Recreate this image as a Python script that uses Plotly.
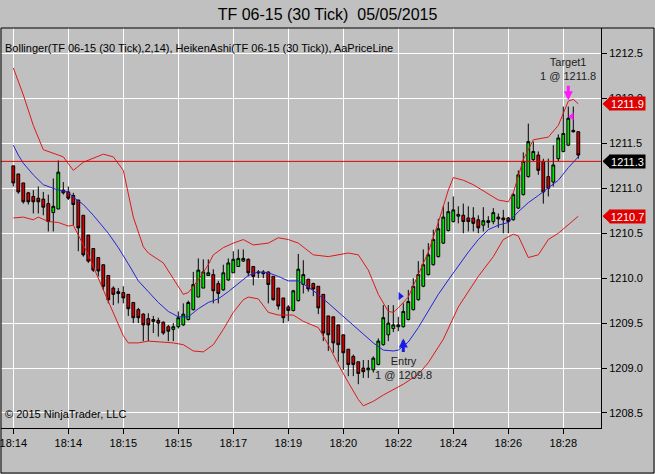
import plotly.graph_objects as go

# NinjaTrader style Heiken Ashi chart with Bollinger bands

title_text = "TF 06-15 (30 Tick)\u00a0 05/05/2015"
indicator_text = "Bollinger(TF 06-15 (30 Tick),2,14), HeikenAshi(TF 06-15 (30 Tick)), AaPriceLine"
copyright_text = "\u00a9 2015 NinjaTrader, LLC"

time_ticks = [0, 11, 22, 33, 44, 55, 66, 77, 88, 99, 110]
time_labels = ["18:14", "18:14", "18:15", "18:15", "18:17", "18:19",
               "18:20", "18:22", "18:24", "18:26", "18:28"]

# heiken ashi candles, one per 30 tick bar
ha_open = [1211.25, 1211.16, 1211.06, 1210.95, 1210.91, 1210.89, 1210.88, 1210.83, 1210.73, 1210.77,
           1210.98, 1210.96, 1210.92, 1210.87, 1210.70, 1210.48, 1210.33, 1210.23, 1210.15, 1210.03,
           1209.89, 1209.85, 1209.84, 1209.82, 1209.73, 1209.65, 1209.60, 1209.55, 1209.52, 1209.53,
           1209.51, 1209.46, 1209.43, 1209.46, 1209.48, 1209.54, 1209.65, 1209.79, 1209.89, 1210.03,
           1210.04, 1209.94, 1209.87, 1209.98, 1210.06, 1210.13, 1210.19, 1210.21, 1210.13, 1210.07,
           1210.07, 1210.07, 1210.02, 1209.89, 1209.78, 1209.68, 1209.64, 1209.75, 1209.93, 1209.99,
           1209.94, 1209.91, 1209.82, 1209.58, 1209.57, 1209.48, 1209.37, 1209.21, 1209.13, 1209.07,
           1209.00, 1208.98, 1208.98, 1209.04, 1209.26, 1209.37, 1209.44, 1209.46, 1209.46, 1209.54,
           1209.65, 1209.76, 1209.91, 1210.04, 1210.15, 1210.24, 1210.39, 1210.53, 1210.63, 1210.69,
           1210.70, 1210.67, 1210.67, 1210.65, 1210.59, 1210.62, 1210.63, 1210.68, 1210.67, 1210.67,
           1210.65, 1210.78, 1210.93, 1211.13, 1211.32, 1211.37, 1211.30, 1211.13, 1211.07, 1211.33,
           1211.41, 1211.48, 1211.645, 1211.63]
ha_high = [1211.25, 1211.16, 1211.06, 1210.96, 1210.98, 1211.02, 1210.96, 1210.93, 1211.11, 1211.31,
           1211.07, 1211.02, 1210.95, 1210.87, 1210.70, 1210.48, 1210.33, 1210.23, 1210.15, 1210.03,
           1209.91, 1209.89, 1209.91, 1209.82, 1209.73, 1209.67, 1209.61, 1209.61, 1209.58, 1209.56,
           1209.52, 1209.48, 1209.50, 1209.63, 1209.72, 1209.75, 1210.07, 1210.22, 1210.21, 1210.21,
           1210.10, 1209.97, 1210.15, 1210.22, 1210.30, 1210.32, 1210.32, 1210.22, 1210.13, 1210.09,
           1210.09, 1210.07, 1210.02, 1209.89, 1209.78, 1209.70, 1209.87, 1210.27, 1210.20, 1209.99,
           1209.95, 1209.91, 1209.82, 1209.58, 1209.57, 1209.48, 1209.37, 1209.21, 1209.15, 1209.07,
           1209.09, 1209.09, 1209.13, 1209.33, 1209.70, 1209.70, 1209.70, 1209.57, 1209.72, 1209.87,
           1210.00, 1210.19, 1210.32, 1210.39, 1210.54, 1210.66, 1210.80, 1210.85, 1210.91, 1210.80,
           1210.83, 1210.80, 1210.79, 1210.70, 1210.79, 1210.69, 1210.78, 1210.72, 1210.76, 1210.68,
           1210.95, 1211.20, 1211.40, 1211.72, 1211.52, 1211.41, 1211.33, 1211.33, 1211.48, 1211.60,
           1211.91, 1211.91, 1211.91, 1211.63]
ha_low = [1211.02, 1210.94, 1210.83, 1210.82, 1210.72, 1210.72, 1210.70, 1210.52, 1210.52, 1210.77,
          1210.93, 1210.87, 1210.59, 1210.30, 1210.24, 1210.17, 1210.07, 1210.02, 1209.87, 1209.72,
          1209.70, 1209.72, 1209.72, 1209.58, 1209.50, 1209.50, 1209.30, 1209.30, 1209.39, 1209.35,
          1209.37, 1209.30, 1209.30, 1209.44, 1209.47, 1209.53, 1209.64, 1209.79, 1209.89, 1210.03,
          1209.72, 1209.72, 1209.86, 1209.97, 1210.06, 1210.13, 1210.18, 1210.02, 1209.92, 1210.00,
          1210.00, 1209.72, 1209.75, 1209.65, 1209.50, 1209.52, 1209.63, 1209.74, 1209.83, 1209.85,
          1209.80, 1209.60, 1209.30, 1209.19, 1209.17, 1209.07, 1208.98, 1208.91, 1208.91, 1208.82,
          1208.89, 1208.89, 1208.95, 1209.03, 1209.25, 1209.30, 1209.40, 1209.41, 1209.45, 1209.53,
          1209.64, 1209.75, 1209.90, 1210.03, 1210.14, 1210.23, 1210.38, 1210.52, 1210.62, 1210.61,
          1210.50, 1210.52, 1210.52, 1210.50, 1210.52, 1210.56, 1210.60, 1210.56, 1210.50, 1210.50,
          1210.64, 1210.77, 1210.92, 1211.12, 1211.30, 1211.15, 1210.83, 1210.91, 1211.02, 1211.30,
          1211.40, 1211.47, 1211.62, 1211.33]
ha_close = [1211.06, 1210.96, 1210.85, 1210.85, 1210.85, 1210.85, 1210.79, 1210.63, 1210.80, 1211.18,
            1210.95, 1210.89, 1210.82, 1210.56, 1210.26, 1210.19, 1210.09, 1210.08, 1209.91, 1209.76,
            1209.82, 1209.83, 1209.78, 1209.66, 1209.56, 1209.56, 1209.48, 1209.48, 1209.54, 1209.50,
            1209.39, 1209.41, 1209.46, 1209.56, 1209.60, 1209.73, 1209.93, 1210.09, 1210.07, 1210.06,
            1209.86, 1209.83, 1210.06, 1210.17, 1210.21, 1210.22, 1210.22, 1210.06, 1210.02, 1210.06,
            1210.05, 1209.93, 1209.76, 1209.69, 1209.56, 1209.64, 1209.86, 1210.10, 1210.04, 1209.88,
            1209.88, 1209.67, 1209.39, 1209.37, 1209.28, 1209.26, 1209.17, 1209.04, 1209.04, 1208.94,
            1208.96, 1209.00, 1209.11, 1209.30, 1209.56, 1209.50, 1209.48, 1209.48, 1209.63, 1209.74,
            1209.91, 1210.04, 1210.15, 1210.26, 1210.43, 1210.55, 1210.68, 1210.74, 1210.76, 1210.71,
            1210.63, 1210.63, 1210.61, 1210.56, 1210.64, 1210.64, 1210.73, 1210.66, 1210.65, 1210.63,
            1210.93, 1211.15, 1211.30, 1211.52, 1211.41, 1211.20, 1210.96, 1211.00, 1211.26, 1211.56,
            1211.61, 1211.78, 1211.63, 1211.37]

upper_bars = [0, 2, 4, 6, 9, 10, 12, 14, 18, 20, 22, 24, 26, 27, 30, 32, 34, 35, 37, 39, 40, 42, 44,
              46, 48, 51, 53, 55, 57, 60, 63, 67, 69, 71, 73, 75, 76, 77, 79, 81, 83, 85, 87, 88, 90,
              92, 95, 97, 99, 100, 102, 104, 107, 109, 111, 112, 113]
upper_vals = [1212.34, 1212.04, 1211.70, 1211.43, 1211.37, 1211.35, 1211.20, 1211.29, 1211.38, 1211.35,
              1211.20, 1210.68, 1210.35, 1210.28, 1210.17, 1210.00, 1209.82, 1209.84, 1209.98, 1210.15,
              1210.26, 1210.34, 1210.39, 1210.43, 1210.37, 1210.39, 1210.45, 1210.43, 1210.39, 1210.26,
              1210.24, 1210.28, 1210.26, 1210.09, 1209.82, 1209.63, 1209.62, 1209.67, 1209.79, 1210.04,
              1210.29, 1210.62, 1210.98, 1211.12, 1211.09, 1211.04, 1210.94, 1210.87, 1210.85, 1210.95,
              1211.32, 1211.54, 1211.57, 1211.70, 1211.97, 1211.99, 1211.94]
mid_bars = [0, 1, 2, 4, 6, 9, 11, 12, 14, 16, 19, 21, 23, 25, 27, 29, 31, 33, 35, 36, 37, 39, 41, 43,
            45, 47, 49, 51, 53, 55, 57, 59, 61, 63, 66, 69, 72, 74, 76, 77, 79, 81, 83, 85, 87, 89,
            91, 93, 95, 97, 99, 101, 103, 105, 107, 109, 111, 113]
mid_vals = [1211.48, 1211.37, 1211.28, 1211.15, 1211.04, 1210.98, 1210.96, 1210.90, 1210.82, 1210.70,
            1210.50, 1210.34, 1210.16, 1209.97, 1209.85, 1209.73, 1209.63, 1209.57, 1209.57, 1209.62,
            1209.66, 1209.73, 1209.77, 1209.85, 1209.94, 1210.03, 1210.07, 1210.06, 1210.02, 1209.97,
            1209.97, 1209.90, 1209.82, 1209.72, 1209.57, 1209.43, 1209.28, 1209.20, 1209.19, 1209.20,
            1209.29, 1209.45, 1209.64, 1209.82, 1209.98, 1210.14, 1210.29, 1210.43, 1210.54, 1210.59,
            1210.62, 1210.74, 1210.84, 1210.92, 1211.00, 1211.09, 1211.23, 1211.35]
lower_bars = [0, 2, 4, 5, 7, 9, 11, 12, 13, 15, 18, 20, 22, 23, 25, 27, 29, 32, 34, 36, 38, 40, 42,
              44, 46, 47, 49, 50, 51, 53, 56, 58, 61, 63, 65, 67, 69, 70, 72, 74, 76, 78, 81, 83, 86,
              89, 93, 96, 98, 100, 101, 103, 105, 107, 109, 111, 113]
lower_vals = [1210.67, 1210.68, 1210.65, 1210.68, 1210.63, 1210.62, 1210.58, 1210.59, 1210.48, 1210.26,
              1209.87, 1209.62, 1209.36, 1209.28, 1209.28, 1209.30, 1209.29, 1209.28, 1209.26, 1209.19,
              1209.18, 1209.26, 1209.43, 1209.62, 1209.76, 1209.79, 1209.77, 1209.69, 1209.62, 1209.59,
              1209.59, 1209.52, 1209.45, 1209.26, 1209.04, 1208.84, 1208.65, 1208.58, 1208.63, 1208.70,
              1208.76, 1208.82, 1208.93, 1209.06, 1209.32, 1209.68, 1210.02, 1210.24, 1210.43, 1210.49,
              1210.47, 1210.23, 1210.26, 1210.43, 1210.50, 1210.59, 1210.69]

price_line = 1211.3

entry_bar = 78
entry_price = 1209.8
entry_arrow_tip = 1209.33
target_bar = 111
target_price = 1211.8
target_arrow_tip = 1211.98

FONT = "Liberation Sans, Arial, sans-serif"
RED_LINE = "#e01818"
PLOT_W, PLOT_H = 600, 400


def px_x(px):
    # page pixel -> paper x (plot starts at px 1)
    return (px - 1) / PLOT_W


def px_y(py):
    # page pixel -> paper y (plot top at px 28)
    return (28 + PLOT_H - py) / PLOT_H


fig = go.Figure()

bars = list(range(len(ha_open)))
fig.add_trace(go.Candlestick(
    x=bars, open=ha_open, high=ha_high, low=ha_low, close=ha_close,
    increasing=dict(fillcolor="#00e800", line=dict(color="black", width=1)),
    decreasing=dict(fillcolor="#d80000", line=dict(color="black", width=1)),
    hoverinfo="skip", showlegend=False))

fig.add_trace(go.Scatter(x=upper_bars, y=upper_vals, mode="lines",
                         line=dict(color=RED_LINE, width=1), hoverinfo="skip"))
fig.add_trace(go.Scatter(x=lower_bars, y=lower_vals, mode="lines",
                         line=dict(color=RED_LINE, width=1), hoverinfo="skip"))
fig.add_trace(go.Scatter(x=mid_bars, y=mid_vals, mode="lines",
                         line=dict(color="#2424d8", width=1), hoverinfo="skip"))

# fill markers
fig.add_trace(go.Scatter(x=[entry_bar - 0.6], y=[entry_price], mode="markers",
                         marker=dict(symbol="triangle-right", size=7, color="#1a1ae6"),
                         hoverinfo="skip"))
fig.add_trace(go.Scatter(x=[target_bar + 0.7], y=[target_price], mode="markers",
                         marker=dict(symbol="triangle-left", size=7, color="#ff1aff"),
                         hoverinfo="skip"))

# price line
fig.add_hline(y=price_line, line=dict(color="#e00000", width=1))

# frame around chart + axes
fig.add_shape(type="rect", xref="paper", yref="paper",
              x0=px_x(1), x1=px_x(654), y0=px_y(473), y1=px_y(28),
              line=dict(color="black", width=1))

# value tags at right axis: pointer shape + boxed annotation (sits over tick labels)
tags = [(upper_vals[-1], "#e00000"), (price_line, "black"), (lower_vals[-1], "#e00000")]
h = 6.5 / 90
for val, col in tags:
    xa, xb = px_x(603), px_x(610)
    path = f"M {xa},{val} L {xb},{val + h} L {xb},{val - h} Z"
    fig.add_shape(type="path", xref="paper", yref="y", path=path,
                  fillcolor=col, line=dict(color=col, width=1), layer="above")
    fig.add_annotation(xref="paper", yref="y", x=px_x(609), y=val, xanchor="left",
                       text=f"{val:.1f}", showarrow=False, width=35, height=13,
                       bgcolor=col, borderpad=0, align="center",
                       font=dict(family=FONT, size=11, color="white"))

# entry / target arrows and texts
fig.add_annotation(x=entry_bar, y=entry_arrow_tip, ax=0, ay=15, text="",
                   showarrow=True, arrowhead=2, arrowsize=0.6, arrowwidth=3, arrowcolor="#1a1ae6")
fig.add_annotation(x=entry_bar, y=1209.0, text="Entry<br>1 @ 1209.8", showarrow=False,
                   font=dict(family=FONT, size=11, color="#222222"))
fig.add_annotation(x=target_bar, y=target_arrow_tip, ax=0, ay=-16, text="",
                   showarrow=True, arrowhead=2, arrowsize=0.6, arrowwidth=3, arrowcolor="#ff1aff")
fig.add_annotation(x=target_bar, y=1212.33, text="Target1<br>1 @ 1211.8", showarrow=False,
                   font=dict(family=FONT, size=11, color="#222222"))

fig.add_annotation(xref="paper", yref="paper", x=px_x(3), y=px_y(40), xanchor="left",
                   text=indicator_text, showarrow=False,
                   font=dict(family=FONT, size=11, color="black"))
fig.add_annotation(xref="paper", yref="paper", x=px_x(3), y=px_y(422), xanchor="left",
                   text=copyright_text, showarrow=False,
                   font=dict(family=FONT, size=11, color="black"))

fig.update_layout(
    width=655, height=474,
    margin=dict(l=1, r=54, t=28, b=46, autoexpand=False),
    paper_bgcolor="#c0c0c0", plot_bgcolor="#c0c0c0",
    showlegend=False, boxgap=0.2,
    font=dict(family=FONT, size=11, color="black"),
    title=dict(text=title_text, x=0.5, xref="container", y=1 - 14 / 474, yanchor="middle",
               font=dict(family=FONT, size=16, color="black")),
    xaxis=dict(range=[-2.46, 117.54], tickvals=time_ticks, ticktext=time_labels,
               showgrid=True, gridcolor="white", gridwidth=1, zeroline=False,
               ticks="outside", ticklen=5, tickcolor="black", showline=True,
               linecolor="black", rangeslider=dict(visible=False),
               ticklabeloverflow="allow", tickfont=dict(family=FONT, size=11)),
    yaxis=dict(range=[1208.333, 1212.784], side="right", dtick=0.5, tick0=1208.5,
               tickformat=".1f", showgrid=True, gridcolor="white", gridwidth=1,
               zeroline=False, ticks="outside", ticklen=5, tickcolor="black",
               showline=True, linecolor="black", tickfont=dict(family=FONT, size=11)),
)

# page body has an 8px margin by default, drop it so the chart sits at 0,0
fig.write_html("out.html", config={"displayModeBar": False},
               post_script="document.body.style.margin='0px';")
